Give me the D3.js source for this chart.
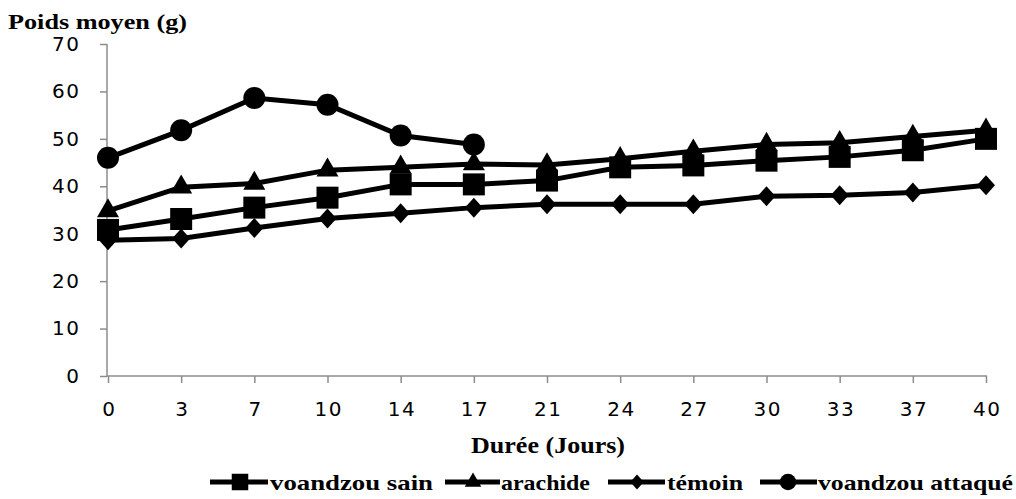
<!DOCTYPE html>
<head>
  <meta charset="utf-8">
  <script src="https://d3js.org/d3.v7.min.js"></script>
  <style>
    body { margin:0; background:#fff; }
    .tick text { font-family: "DejaVu Sans", sans-serif; font-size: 20px; fill:#000; letter-spacing: 1.5px; }
    .serif { font-family: "Liberation Serif", "Times New Roman", serif; font-weight: bold; fill:#000; }
  </style>
</head>
<body>
<script>

  // data
  var days = ["0","3","7","10","14","17","21","24","27","30","33","37","40"];
  var voandzouSain = [30.8, 33.1, 35.5, 37.6, 40.4, 40.4, 41.2, 44.0, 44.4, 45.4, 46.2, 47.6, 50.0];
  var arachide     = [34.8, 39.8, 40.6, 43.4, 44.0, 44.7, 44.5, 45.8, 47.4, 48.8, 49.2, 50.5, 51.8];
  var temoin       = [28.6, 29.0, 31.2, 33.2, 34.3, 35.5, 36.2, 36.2, 36.2, 37.9, 38.1, 38.7, 40.2];
  var voandzouAttaque = [46.0, 51.8, 58.6, 57.2, 50.7, 48.8];
  var yTicks = [0, 10, 20, 30, 40, 50, 60, 70];

  var series = [
    {name: "voandzou sain", values: voandzouSain, marker: "square"},
    {name: "arachide", values: arachide, marker: "triangle"},
    {name: "témoin", values: temoin, marker: "diamond"},
    {name: "voandzou attaqué", values: voandzouAttaque, marker: "circle"}
  ];

  var width = 1016, height = 499;

  var x = d3.scalePoint().domain(days).range([108, 986]);
  var y = d3.scaleLinear().domain([0, 70]).range([376, 44]);

  var svg = d3.select("body").append("svg")
    .attr("width", width)
    .attr("height", height);

  // axes
  var yAxis = svg.append("g")
    .attr("transform", "translate(107,0)")
    .call(d3.axisLeft(y).tickValues(yTicks).tickSize(7).tickPadding(21));
  var xAxis = svg.append("g")
    .attr("transform", "translate(0,376)")
    .call(d3.axisBottom(x).tickSize(7).tickPadding(19));

  [yAxis, xAxis].forEach(function(a) {
    a.select(".domain").attr("stroke", "#8c8c8c").attr("stroke-width", 1.5);
    a.selectAll(".tick line").attr("stroke", "#8c8c8c").attr("stroke-width", 1.5);
  });
  xAxis.select(".domain").attr("d", "M107,0H987");
  yAxis.select(".domain").attr("d", "M0,44V376");
  xAxis.selectAll(".tick text").attr("dx", "0.75px");
  yAxis.selectAll(".tick text").attr("dx", "1.5px");

  // marker shapes
  var diamond = { draw: function(ctx, size) {
    ctx.moveTo(0, -10); ctx.lineTo(9, 0); ctx.lineTo(0, 10); ctx.lineTo(-9, 0); ctx.closePath();
  }};
  var shapes = {
    square: d3.symbol().type(d3.symbolSquare).size(22 * 22),
    triangle: d3.symbol().type(d3.symbolTriangle).size(210),
    diamond: d3.symbol().type(diamond),
    circle: d3.symbol().type(d3.symbolCircle).size(Math.PI * 11 * 11)
  };

  var line = d3.line()
    .x(function(d, i) { return x(days[i]); })
    .y(function(d) { return y(d); });

  series.forEach(function(s) {
    var g = svg.append("g");
    g.append("path")
      .attr("d", line(s.values))
      .attr("fill", "none")
      .attr("stroke", "#000")
      .attr("stroke-width", 5);
    g.selectAll("path.m")
      .data(s.values)
      .enter()
      .append("path")
      .attr("class", "m")
      .attr("d", shapes[s.marker])
      .attr("transform", function(d, i) { return "translate(" + x(days[i]) + "," + y(d) + ")"; })
      .attr("fill", "#000");
  });

  // titles
  svg.append("text")
    .attr("class", "serif")
    .attr("x", 8).attr("y", 29)
    .attr("textLength", 179)
    .attr("lengthAdjust", "spacingAndGlyphs")
    .style("font-size", "22px")
    .text("Poids moyen (g)");

  svg.append("text")
    .attr("class", "serif")
    .attr("x", 471).attr("y", 453)
    .attr("textLength", 154)
    .attr("lengthAdjust", "spacingAndGlyphs")
    .style("font-size", "23px")
    .text("Durée (Jours)");

  // legend: sample line extent, marker centre, text start and width
  var legendLayout = [
    {x1: 210, x2: 268, m: 240, t: 270, w: 163},
    {x1: 445, x2: 500, m: 473, t: 501, w: 89},
    {x1: 608, x2: 665, m: 637, t: 667, w: 76},
    {x1: 760, x2: 817, m: 788, t: 818, w: 195}
  ];
  var legend = svg.append("g").attr("transform", "translate(0,482)");
  series.forEach(function(s, i) {
    var L = legendLayout[i];
    legend.append("line")
      .attr("x1", L.x1).attr("x2", L.x2)
      .attr("stroke", "#000").attr("stroke-width", 5);
    legend.append("path")
      .attr("d", shapes[s.marker])
      .attr("transform", "translate(" + L.m + ",0) scale(0.75)")
      .attr("fill", "#000");
    legend.append("text")
      .attr("class", "serif")
      .attr("x", L.t)
      .attr("y", 8)
      .attr("textLength", L.w)
      .attr("lengthAdjust", "spacingAndGlyphs")
      .style("font-size", "22px")
      .text(s.name);
  });

</script>
</body>
